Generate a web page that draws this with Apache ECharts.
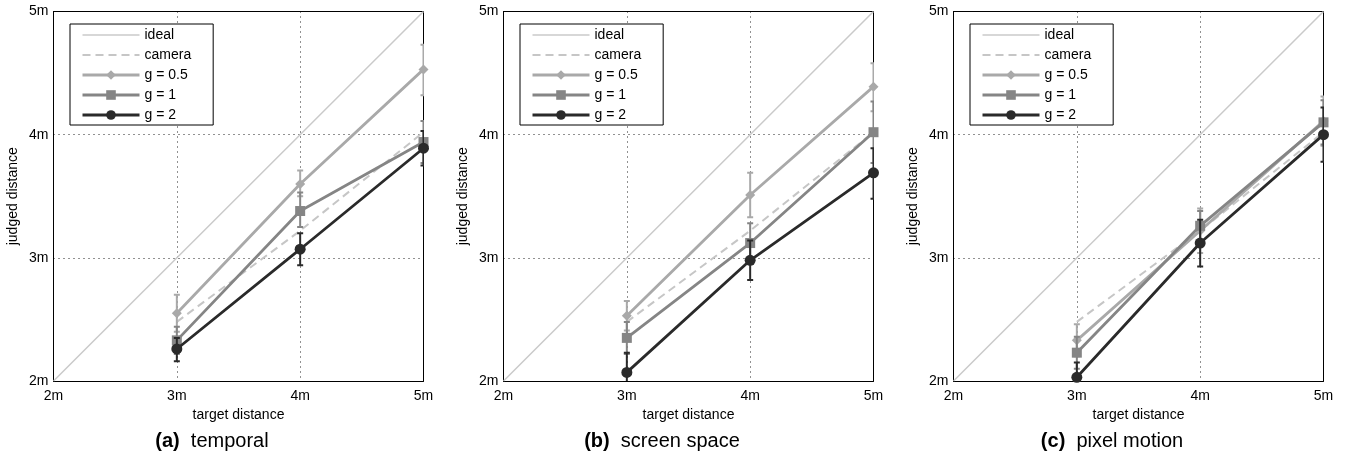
<!DOCTYPE html>
<html>
<head>
<meta charset="utf-8">
<script src="https://cdn.jsdelivr.net/npm/echarts@6/dist/echarts.min.js"></script>
<style>
  html, body { margin: 0; padding: 0; background: #fff; }
  #main { width: 1352px; height: 458px; }
</style>
</head>
<body>
<div id="main"></div>
<script>
  // target distances (m)
  const targets = [3, 4, 5]
  const idealLine = [2, 5]
  const cameraVals = [2.48, 3.22, 4.02]

  const panelLetters = ['(a)', '(b)', '(c)']
  const panelTitles = ['temporal', 'screen space', 'pixel motion']
  const groupNames = ['g = 0.5', 'g = 1', 'g = 2']

  // (a) temporal
  const tempG05 = [2.55, 3.60, 4.53]
  const tempG05Lo = [2.40, 3.50, 4.32]
  const tempG05Hi = [2.70, 3.71, 4.73]
  const tempG1 = [2.33, 3.38, 3.94]
  const tempG1Lo = [2.22, 3.25, 3.77]
  const tempG1Hi = [2.44, 3.53, 4.11]
  const tempG2 = [2.26, 3.07, 3.89]
  const tempG2Lo = [2.16, 2.94, 3.75]
  const tempG2Hi = [2.35, 3.20, 4.03]

  // (b) screen space
  const screenG05 = [2.53, 3.51, 4.39]
  const screenG05Lo = [2.41, 3.33, 4.19]
  const screenG05Hi = [2.65, 3.69, 4.58]
  const screenG1 = [2.35, 3.12, 4.02]
  const screenG1Lo = [2.22, 2.96, 3.77]
  const screenG1Hi = [2.48, 3.28, 4.27]
  const screenG2 = [2.07, 2.98, 3.69]
  const screenG2Lo = [1.91, 2.82, 3.48]
  const screenG2Hi = [2.23, 3.14, 3.89]

  // (c) pixel motion
  const pixelG05 = [2.33, 3.22, 4.11]
  const pixelG05Lo = [2.20, 3.04, 3.91]
  const pixelG05Hi = [2.46, 3.40, 4.31]
  const pixelG1 = [2.23, 3.26, 4.10]
  const pixelG1Lo = [2.10, 3.13, 3.92]
  const pixelG1Hi = [2.36, 3.38, 4.28]
  const pixelG2 = [2.03, 3.12, 4.00]
  const pixelG2Lo = [1.91, 2.93, 3.78]
  const pixelG2Hi = [2.15, 3.31, 4.22]

  const panels = [
    { mean: [tempG05, tempG1, tempG2], lo: [tempG05Lo, tempG1Lo, tempG2Lo], hi: [tempG05Hi, tempG1Hi, tempG2Hi] },
    { mean: [screenG05, screenG1, screenG2], lo: [screenG05Lo, screenG1Lo, screenG2Lo], hi: [screenG05Hi, screenG1Hi, screenG2Hi] },
    { mean: [pixelG05, pixelG1, pixelG2], lo: [pixelG05Lo, pixelG1Lo, pixelG2Lo], hi: [pixelG05Hi, pixelG1Hi, pixelG2Hi] }
  ]

  const groupColors = ['#a9a9a9', '#858585', '#2a2a2a']
  const groupSymbols = ['diamond', 'rect', 'circle']
  const groupSizes = [10, 10, 11]
  const font = 'Liberation Sans'
  const gridLefts = [53.5, 503.5, 953.5]

  // vertical error bar with caps
  function errRender(params, api) {
    const x = api.value(0)
    const lo = api.coord([x, api.value(1)])
    const hi = api.coord([x, api.value(2)])
    const w = 3
    const style = { stroke: api.visual('color'), lineWidth: 2 }
    return {
      type: 'group',
      children: [
        { type: 'line', shape: { x1: lo[0], y1: lo[1], x2: hi[0], y2: hi[1] }, style: style },
        { type: 'line', shape: { x1: lo[0] - w, y1: lo[1], x2: lo[0] + w, y2: lo[1] }, style: style },
        { type: 'line', shape: { x1: hi[0] - w, y1: hi[1], x2: hi[0] + w, y2: hi[1] }, style: style }
      ]
    }
  }

  const grid = [], xAxis = [], yAxis = [], legend = [], series = [], graphic = []

  panels.forEach(function (p, i) {
    const left = gridLefts[i]
    grid.push({ left: left, top: 11.5, width: 370, height: 369.5 })
    const tickLabel = { fontSize: 14, color: '#000', fontFamily: font, formatter: function (v) { return v + 'm' } }
    xAxis.push({
      type: 'value', gridIndex: i, min: 2, max: 5, interval: 1, position: 'bottom',
      name: 'target distance', nameLocation: 'middle', nameGap: 26,
      nameTextStyle: { fontSize: 14, color: '#000', fontFamily: font },
      axisLine: { lineStyle: { color: '#000', width: 1 } },
      axisTick: { show: false },
      axisLabel: Object.assign({ margin: 8 }, tickLabel),
      splitLine: { show: true, lineStyle: { color: '#222', type: [1, 4], width: 1 } }
    })
    xAxis.push({
      type: 'value', gridIndex: i, min: 2, max: 5, interval: 1, position: 'top',
      axisLine: { lineStyle: { color: '#000', width: 1 } },
      axisTick: { show: false }, axisLabel: { show: false }, splitLine: { show: false }
    })
    yAxis.push({
      type: 'value', gridIndex: i, min: 2, max: 5, interval: 1, position: 'left',
      name: 'judged distance', nameLocation: 'middle', nameGap: 33,
      nameTextStyle: { fontSize: 14, color: '#000', fontFamily: font },
      axisLine: { show: true, lineStyle: { color: '#000', width: 1 } },
      axisTick: { show: false },
      axisLabel: Object.assign({ margin: 5 }, tickLabel),
      splitLine: { show: true, lineStyle: { color: '#222', type: [1, 4], width: 1 } }
    })
    yAxis.push({
      type: 'value', gridIndex: i, min: 2, max: 5, interval: 1, position: 'right',
      axisLine: { show: true, lineStyle: { color: '#000', width: 1 } },
      axisTick: { show: false }, axisLabel: { show: false }, splitLine: { show: false }
    })

    legend.push({
      orient: 'vertical', left: left + 16.5, top: 24,
      data: [
        { name: 'ideal', itemStyle: { opacity: 0 }, lineStyle: { width: 1.5 } },
        { name: 'camera', itemStyle: { opacity: 0 }, lineStyle: { width: 2 } }
      ].concat(groupNames.map(function (g) {
        return { name: g, lineStyle: { width: 3 } }
      })),
      itemWidth: 57, itemHeight: 12, itemGap: 6,
      padding: [4, 22, 3, 11],
      borderColor: '#000', borderWidth: 1, backgroundColor: '#fff',
      textStyle: { fontSize: 14, color: '#000', fontFamily: font },
      selectedMode: false
    })

    const xi = i * 2, yi = i * 2
    series.push({
      name: 'ideal', type: 'line', xAxisIndex: xi, yAxisIndex: yi,
      data: idealLine.map(function (v) { return [v, v] }),
      symbol: 'none', lineStyle: { color: '#cacaca', width: 1.5 }, itemStyle: { color: '#cacaca' },
      z: 2, silent: true
    })
    series.push({
      name: 'camera', type: 'line', xAxisIndex: xi, yAxisIndex: yi,
      data: targets.map(function (t, k) { return [t, cameraVals[k]] }),
      symbol: 'none', lineStyle: { color: '#c6c6c6', width: 2, type: [8, 5] }, itemStyle: { color: '#c6c6c6' },
      z: 3, silent: true
    })
    groupNames.forEach(function (g, k) {
      series.push({
        name: g + ' err', type: 'custom', xAxisIndex: xi, yAxisIndex: yi,
        data: targets.map(function (t, j) { return [t, p.lo[k][j], p.hi[k][j]] }),
        encode: { x: 0, y: [1, 2] },
        renderItem: errRender, clip: true,
        itemStyle: { color: groupColors[k] }, z: 4 + k * 2, silent: true
      })
      series.push({
        name: g, type: 'line', xAxisIndex: xi, yAxisIndex: yi,
        data: targets.map(function (t, j) { return [t, p.mean[k][j]] }),
        symbol: groupSymbols[k], symbolSize: groupSizes[k], showSymbol: true,
        lineStyle: { color: groupColors[k], width: 2.8 }, itemStyle: { color: groupColors[k] },
        z: 5 + k * 2, silent: true
      })
    })

    graphic.push({
      type: 'text', x: i * 450 + 212, y: 441,
      style: {
        text: '{b|' + panelLetters[i] + '}  ' + panelTitles[i],
        align: 'center', verticalAlign: 'middle',
        fontSize: 20, fontFamily: font, fill: '#000',
        rich: { b: { fontSize: 20, fontWeight: 'bold', fontFamily: font, fill: '#000' } }
      }
    })
  })

  const chart = echarts.init(document.getElementById('main'))
  chart.setOption({
    animation: false,
    backgroundColor: '#fff',
    textStyle: { fontFamily: font },
    grid: grid,
    xAxis: xAxis,
    yAxis: yAxis,
    legend: legend,
    series: series,
    graphic: { elements: graphic }
  })
  window.onresize = function () {
    chart.resize()
  }
</script>
</body>
</html>
